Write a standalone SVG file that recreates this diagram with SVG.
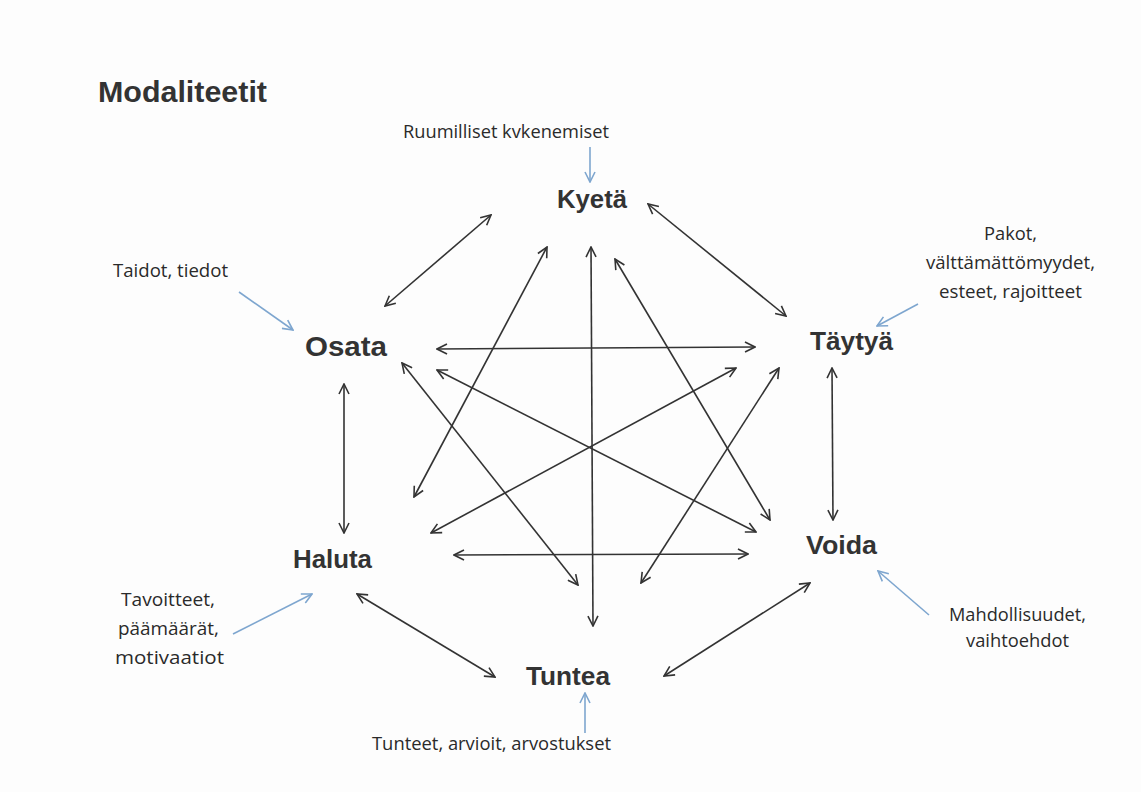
<svg xmlns="http://www.w3.org/2000/svg" width="1141" height="792" viewBox="0 0 1141 792">
<style>
.title{font-family:"Liberation Sans",Arial,sans-serif;font-weight:bold;font-size:29px;fill:#333}
.node{font-family:"Liberation Sans",Arial,sans-serif;font-weight:bold;font-size:26px;fill:#333}
.note{font-family:"Open Sans","Liberation Sans",sans-serif;font-size:18.5px;fill:#2a2a2a}
.c{stroke:#333;stroke-width:1.6;fill:none;marker-start:url(#ah);marker-end:url(#ah)}
.b{stroke:#7ea6cf;stroke-width:1.6;fill:none;marker-end:url(#bh)}
</style>
<defs>
<marker id="ah" viewBox="0 0 12 12" refX="11" refY="6" markerWidth="12" markerHeight="12" markerUnits="userSpaceOnUse" orient="auto-start-reverse">
<path d="M1,1 L11,6 L1,11" fill="none" stroke="#333" stroke-width="1.6"/>
</marker>
<marker id="bh" viewBox="0 0 12 12" refX="11" refY="6" markerWidth="12" markerHeight="12" markerUnits="userSpaceOnUse" orient="auto">
<path d="M1,1 L11,6 L1,11" fill="none" stroke="#7ea6cf" stroke-width="1.6"/>
</marker>
</defs>
<rect width="1141" height="792" fill="#fdfdfd"/>
<text class="title" x="98" y="102" textLength="169" lengthAdjust="spacingAndGlyphs">Modaliteetit</text>

<g id="connectors">
<line class="c" x1="491" y1="215" x2="385" y2="306"/>
<line class="c" x1="648" y1="204" x2="786" y2="316"/>
<line class="c" x1="591" y1="247" x2="593" y2="626"/>
<line class="c" x1="547" y1="247" x2="414" y2="497"/>
<line class="c" x1="615" y1="259" x2="770" y2="520"/>
<line class="c" x1="437" y1="349" x2="755" y2="347"/>
<line class="c" x1="437" y1="370" x2="756" y2="532"/>
<line class="c" x1="402" y1="363" x2="578" y2="585"/>
<line class="c" x1="736" y1="368" x2="431" y2="533"/>
<line class="c" x1="779" y1="368" x2="641" y2="583"/>
<line class="c" x1="454" y1="555" x2="748" y2="554"/>
<line class="c" x1="344" y1="384" x2="344" y2="533"/>
<line class="c" x1="832" y1="368" x2="833" y2="520"/>
<line class="c" x1="357" y1="594" x2="495" y2="677"/>
<line class="c" x1="810" y1="583" x2="664" y2="676"/>
<line class="b" x1="590" y1="147" x2="590" y2="182"/>
<line class="b" x1="239" y1="292" x2="293" y2="330"/>
<line class="b" x1="918" y1="304" x2="877" y2="326"/>
<line class="b" x1="233" y1="634" x2="312" y2="594"/>
<line class="b" x1="929" y1="615" x2="878" y2="571"/>
<line class="b" x1="585" y1="733" x2="585" y2="693"/>
</g>

<g id="kyeta"><text class="node" x="557" y="208" textLength="70" lengthAdjust="spacingAndGlyphs">Kyetä</text></g>
<g id="osata"><text class="node" x="305" y="356" textLength="82" lengthAdjust="spacingAndGlyphs" style="font-size:27px">Osata</text></g>
<g id="taytya"><text class="node" x="810" y="350" textLength="83" lengthAdjust="spacingAndGlyphs">Täytyä</text></g>
<g id="haluta"><text class="node" x="293" y="568" textLength="79" lengthAdjust="spacingAndGlyphs">Haluta</text></g>
<g id="voida"><text class="node" x="806" y="554" textLength="71" lengthAdjust="spacingAndGlyphs">Voida</text></g>
<g id="tuntea"><text class="node" x="526" y="685" textLength="84" lengthAdjust="spacingAndGlyphs">Tuntea</text></g>

<g id="note-kyeta"><text class="note" x="403" y="138" textLength="206" lengthAdjust="spacingAndGlyphs">Ruumilliset kvkenemiset</text></g>
<g id="note-osata"><text class="note" x="113" y="277" textLength="115" lengthAdjust="spacingAndGlyphs">Taidot, tiedot</text></g>
<g id="note-taytya">
<text class="note" x="984" y="240" textLength="53" lengthAdjust="spacingAndGlyphs">Pakot,</text>
<text class="note" x="926" y="269" textLength="169" lengthAdjust="spacingAndGlyphs">välttämättömyydet,</text>
<text class="note" x="939" y="298" textLength="143" lengthAdjust="spacingAndGlyphs">esteet, rajoitteet</text>
</g>
<g id="note-haluta">
<text class="note" x="121" y="606" textLength="94" lengthAdjust="spacingAndGlyphs">Tavoitteet,</text>
<text class="note" x="118" y="635" textLength="101" lengthAdjust="spacingAndGlyphs">päämäärät,</text>
<text class="note" x="115" y="664" textLength="109" lengthAdjust="spacingAndGlyphs">motivaatiot</text>
</g>
<g id="note-voida">
<text class="note" x="949" y="621" textLength="137" lengthAdjust="spacingAndGlyphs">Mahdollisuudet,</text>
<text class="note" x="966" y="647" textLength="103" lengthAdjust="spacingAndGlyphs">vaihtoehdot</text>
</g>
<g id="note-tuntea"><text class="note" x="372" y="750" textLength="239" lengthAdjust="spacingAndGlyphs">Tunteet, arvioit, arvostukset</text></g>
</svg>
